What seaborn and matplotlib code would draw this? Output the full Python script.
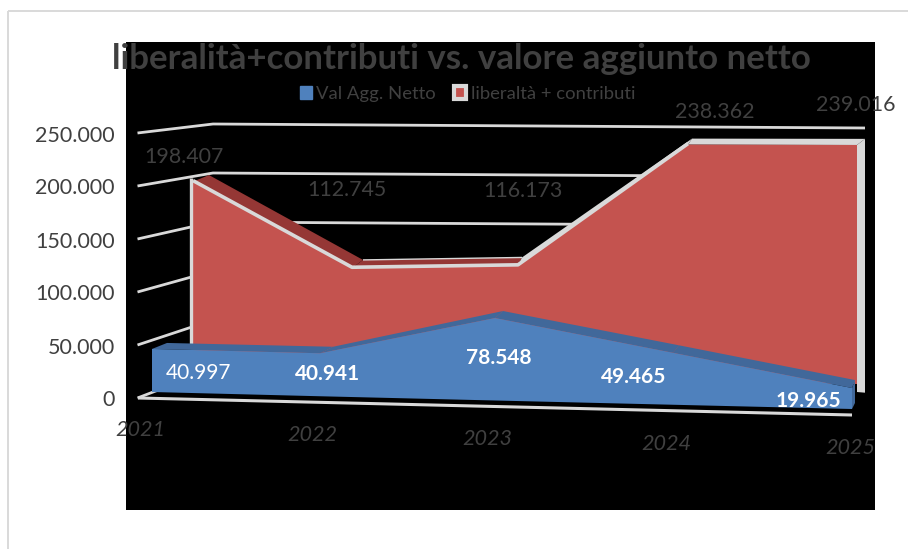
import numpy as np
import pandas as pd
import seaborn as sns
import matplotlib
matplotlib.use("Agg")
import matplotlib.pyplot as plt
from matplotlib.patches import Rectangle, Patch

# ---- data ----
years = ["2021", "2022", "2023", "2024", "2025"]
val_agg = [40997, 40941, 78548, 49465, 19965]
liberalita = [198407, 112745, 116173, 238362, 239016]
y_ticks = [0, 50000, 100000, 150000, 200000, 250000]
title = "liberalità+contributi vs. valore aggiunto netto"
series_names = ["Val Agg. Netto", "liberaltà + contributi"]


def it_fmt(v):
    return f"{v:,}".replace(",", ".")


# ---- colours ----
BLUE, BLUE_D = "#4F81BD", "#41689A"
RED, RED_D = "#C4534F", "#953735"
GRAY = "#D9D9D9"
TXT = "#404040"

# ---- 3D-looking projection planes: category x pixels, baseline, slope, px per unit ----
PLANES = {
    "blue_front": ([152, 320, 495, 673, 852], 392, 4.25, 1.05e-3),
    "blue_back": ([167, 333, 503, 679, 855], 386, 3.75, 1.05e-3),
    "red_front": ([193, 352, 518, 688, 857], 380, 1.0, 1.0e-3),
    "red_back": ([209, 363, 522, 692, 865], 369.5, 0.9, 0.98e-3),
}


def proj(plane, values, idx=None):
    xs, y0, dy, k = PLANES[plane]
    idx = list(range(len(values))) if idx is None else idx
    px = np.array([xs[i] for i in idx], float)
    py = np.array([y0 + i * dy - k * v for i, v in zip(idx, values)], float)
    return px, py


sns.set_theme(style="white")
plt.rcParams["font.family"] = ["Lato", "DejaVu Sans"]

fig = plt.figure(figsize=(9.08, 5.49), dpi=100, facecolor="white")
ax = fig.add_axes([0, 0, 1, 1])
ax.set_facecolor("white")


def line(px, py, lw, color=GRAY, z=2):
    df = pd.DataFrame({"x": px, "y": py})
    sns.lineplot(data=df, x="x", y="y", ax=ax, sort=False, estimator=None, color=color,
                 linewidth=lw, zorder=z, legend=False, solid_capstyle="butt")


# outer chart frame and black plot panel
line([8, 8], [549, 11], 1.4)
line([8, 908], [11, 11], 1.4)
ax.add_patch(Rectangle((126, 42), 749, 468, facecolor="black", edgecolor="none", zorder=1))

# walls: gridlines (side wall then back wall)
WALL_F = (137.5, 398.0, 1.06e-3)
WX0, WX1 = 213, 865
for t in y_ticks:
    fx, fy0, fk = WALL_F
    by0 = 369.0 - 0.98e-3 * t
    pts_x = [fx, WX0, WX1]
    pts_y = [fy0 - fk * t, by0, by0 + 4]
    line(pts_x, pts_y, 2.0)

# floor front edge
bx, by = proj("blue_front", [0] * 5)
line([138, 852], [398, 415], 2.2, z=6)

# ---- red area ----
rfx, rfy = proj("red_front", liberalita)
rbx, rby = proj("red_back", liberalita)
rbasex, rbasey = proj("red_front", [0] * 5)
# right side panel
side_fx, side_fy = proj("red_front", [liberalita[-1], -8000], [4, 4])
side_bx, side_by = proj("red_back", [liberalita[-1], -20000], [4, 4])
ax.fill([side_fx[0], side_bx[0], side_bx[1], side_fx[1]],
        [side_fy[0], side_by[0], side_by[1], side_fy[1]], color=GRAY, lw=0, zorder=3)
# top surfaces of each segment
top_cols = [RED_D, RED_D, GRAY, GRAY]
for i, c in enumerate(top_cols):
    ax.fill([rfx[i], rfx[i + 1], rbx[i + 1], rbx[i]],
            [rfy[i], rfy[i + 1], rby[i + 1], rby[i]], color=c, lw=0, zorder=3)
line(rbx[1:3], rby[1:3], 1.0, z=3)
# front face
ax.fill(np.r_[rfx, rbasex[::-1]], np.r_[rfy, rbasey[::-1]], color=RED, lw=0, zorder=4)
line(rfx[:4], rfy[:4] - 1, 2.6, z=5)
line([rfx[0] - 2, rfx[0] - 2], [rfy[0] - 4, rbasey[0] - 35], 2.4, z=5)

# ---- blue area ----
bfx, bfy = proj("blue_front", val_agg)
bbx, bby = proj("blue_back", val_agg)
for i in range(4):
    ax.fill([bfx[i], bfx[i + 1], bbx[i + 1], bbx[i]],
            [bfy[i], bfy[i + 1], bby[i + 1], bby[i]], color=BLUE_D, lw=0, zorder=7)
ax.fill([bfx[4], bbx[4], bbx[4], bfx[4]], [bfy[4], bby[4], by[4] - 6, by[4]],
        color=BLUE_D, lw=0, zorder=7)
ax.fill(np.r_[bfx, bx[::-1]], np.r_[bfy, by[::-1]], color=BLUE, lw=0, zorder=8)

# ---- text ----
ax.text(461.5, 59, title, ha="center", va="center", color=TXT, fontsize=25.1,
        fontweight="bold", zorder=10)

for t in y_ticks:
    ax.text(115, 400.5 - 1.06e-3 * t, it_fmt(t), ha="right", va="center", color=TXT,
            fontsize=15.5, zorder=10)

year_px = [140, 312, 487, 666, 850]
year_py = [430, 435, 439, 444, 448]
for s, x, y in zip(years, year_px, year_py):
    ax.text(x, y, s, ha="center", va="center", color=TXT, fontsize=15.6, fontstyle="italic", zorder=10)

red_lab_px = [184, 347, 523, 715, 856]
red_lab_py = [157, 190, 191, 112, 105]
for v, x, y in zip(liberalita, red_lab_px, red_lab_py):
    ax.text(x, y, it_fmt(v), ha="center", va="center", color=TXT, fontsize=15.4, zorder=10)

blue_lab_px = [199, 328, 499, 634, 808]
blue_lab_py = [373, 374, 358, 377, 401]
blue_lab_w = ["normal", "bold", "bold", "bold", "bold"]
for v, x, y, w in zip(val_agg, blue_lab_px, blue_lab_py, blue_lab_w):
    ax.text(x, y, it_fmt(v), ha="center", va="center", color="white", fontsize=15,
            fontweight=w, zorder=10)

# ---- legend ----
handles = [Patch(facecolor=BLUE, edgecolor=BLUE, label=series_names[0]),
           Patch(facecolor=RED, edgecolor=GRAY, linewidth=3, label=series_names[1])]
leg = ax.legend(handles=handles, ncol=2, loc="center", bbox_to_anchor=(467.5 / 908, 1 - 94 / 549),
                frameon=False, fontsize=13.3, labelcolor=TXT, handlelength=0.65, handleheight=0.65,
                handletextpad=0.25, columnspacing=1.0, borderpad=0)
leg.set_zorder(11)

ax.set_xlim(0, 908)
ax.set_ylim(549, 0)
ax.set_xlabel("")
ax.set_ylabel("")
ax.axis("off")
fig.savefig("out.png", dpi=100, facecolor="white")
